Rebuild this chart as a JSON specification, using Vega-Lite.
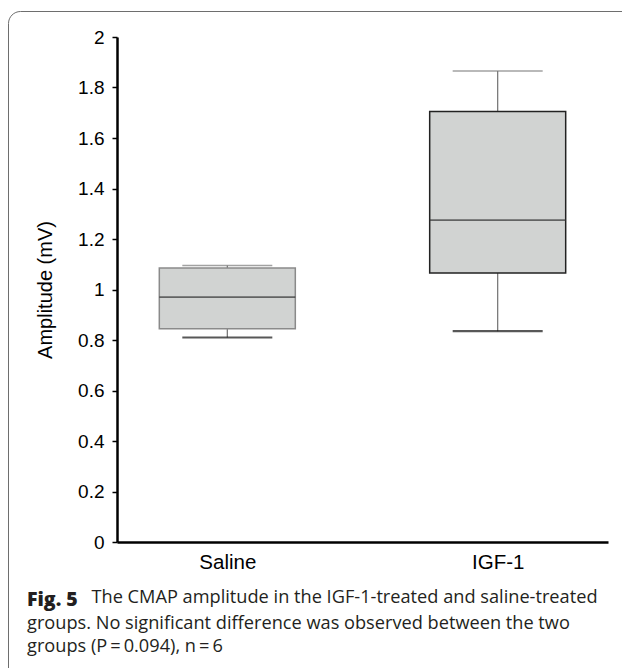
{
  "$schema": "https://vega.github.io/schema/vega-lite/v6.json",
  "width": 634,
  "height": 677,
  "autosize": {"type": "none"},
  "padding": {"left": 8, "top": 11, "right": -20, "bottom": -20},
  "background": "white",
  "config": {
    "view": {"stroke": "#6e6e6e", "strokeWidth": 1, "cornerRadius": 12},
    "font": "Liberation Sans",
    "axis": {"labelFont": "Liberation Sans", "titleFont": "Liberation Sans", "grid": false}
  },
  "title": {
    "text": "Fig. 5",
    "subtitle": [
      "groups. No significant difference was observed between the two",
      "groups (P\u2009=\u20090.094), n\u2009=\u20096"
    ],
    "orient": "bottom",
    "anchor": "start",
    "frame": "group",
    "offset": -97,
    "dx": 19,
    "font": "Open Sans",
    "fontWeight": 800,
    "fontSize": 19.5,
    "color": "#231f20",
    "subtitleFont": "Open Sans",
    "subtitleFontSize": 18.2,
    "subtitleColor": "#231f20",
    "subtitleLineHeight": 23,
    "subtitlePadding": 4
  },
  "data": {
    "values": [
      {"group": "Saline", "min": 0.81, "q1": 0.845, "median": 0.97, "q3": 1.085, "max": 1.095},
      {"group": "IGF-1", "min": 0.835, "q1": 1.065, "median": 1.275, "q3": 1.705, "max": 1.865}
    ]
  },
  "encoding": {
    "x": {
      "field": "group",
      "type": "nominal",
      "sort": ["Saline", "IGF-1"],
      "scale": {"type": "point", "range": [109, 600], "padding": 0.408},
      "axis": {
        "title": "The CMAP amplitude in the IGF-1-treated and saline-treated",
        "titleFont": "Open Sans",
        "titleFontSize": 18.2,
        "titleFontWeight": "normal",
        "titleColor": "#231f20",
        "titleX": 83,
        "titleY": 60,
        "titleAlign": "left",
        "titleAnchor": "start",
        "titleBaseline": "alphabetic",
        "titleAngle": 0,
        "orient": "bottom",
        "offset": -146,
        "ticks": false,
        "domainColor": "black",
        "domainWidth": 2.5,
        "labelFontSize": 20.5,
        "labelColor": "black",
        "labelPadding": 10,
        "labelDx": -23.5,
        "labelAngle": 0
      }
    }
  },
  "layer": [
    {
      "mark": {"type": "rule", "color": "#707070", "strokeWidth": 1.2},
      "encoding": {
        "y": {
          "field": "min",
          "type": "quantitative",
          "scale": {"domain": [0, 2], "range": [531, 26], "nice": false, "zero": false},
          "axis": {
            "title": "Amplitude (mV)",
            "values": [0, 0.2, 0.4, 0.6, 0.8, 1, 1.2, 1.4, 1.6, 1.8, 2],
            "format": "~g",
            "offset": -109,
            "domainColor": "black",
            "domainWidth": 2.5,
            "tickColor": "black",
            "tickSize": 5,
            "tickWidth": 1.5,
            "labelFontSize": 19,
            "labelColor": "black",
            "labelPadding": 8,
            "titleFontSize": 20,
            "titleFontWeight": "normal",
            "titleColor": "black",
            "titlePadding": 22
          }
        },
        "y2": {"field": "max"}
      }
    },
    {
      "mark": {"type": "bar", "size": 136, "fill": "#d1d3d2", "strokeWidth": 1.5},
      "encoding": {
        "y": {"field": "q1", "type": "quantitative"},
        "y2": {"field": "q3"},
        "stroke": {
          "field": "group",
          "type": "nominal",
          "scale": {"domain": ["Saline", "IGF-1"], "range": ["#8a8a8a", "#222222"]},
          "legend": null
        }
      }
    },
    {
      "mark": {"type": "tick", "size": 136, "thickness": 1.8, "color": "#333333"},
      "encoding": {"y": {"field": "median", "type": "quantitative"}}
    },
    {
      "mark": {"type": "tick", "size": 90, "thickness": 1.5, "color": "#7a7a7a"},
      "encoding": {"y": {"field": "max", "type": "quantitative"}}
    },
    {
      "mark": {"type": "tick", "size": 90, "thickness": 2.2, "color": "#111111"},
      "encoding": {"y": {"field": "min", "type": "quantitative"}}
    }
  ]
}
